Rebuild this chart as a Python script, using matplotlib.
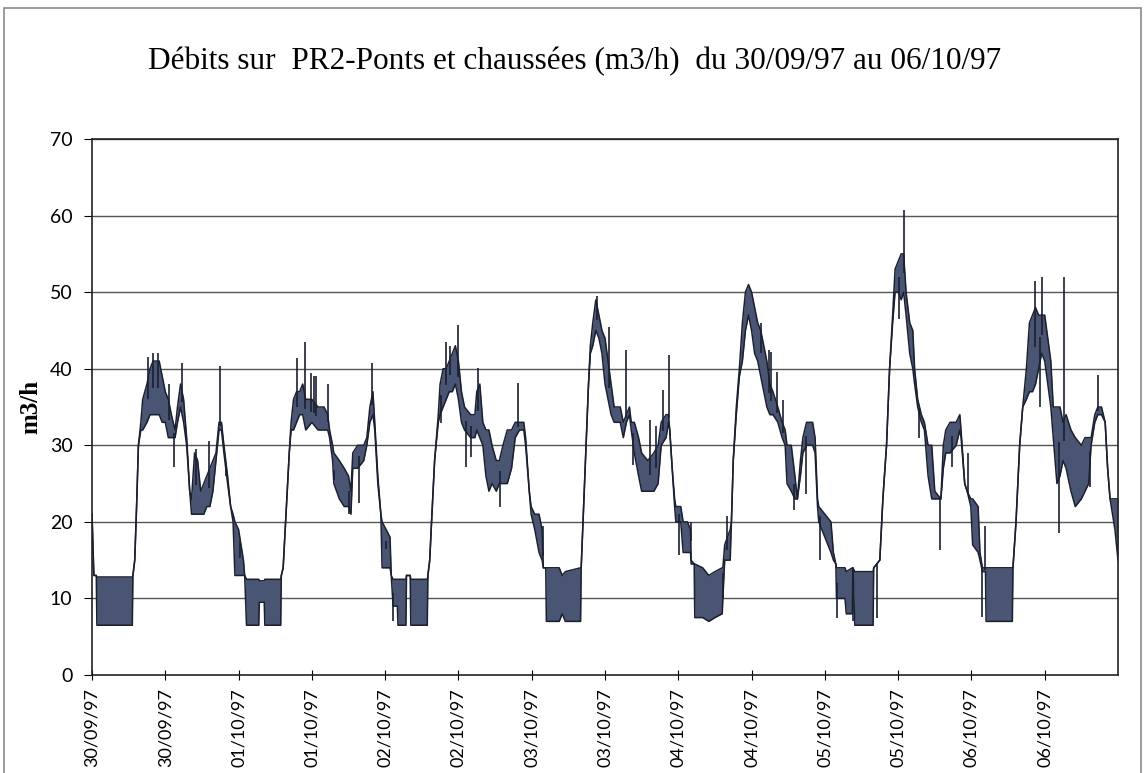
import numpy as np
import matplotlib
matplotlib.use("Agg")
import matplotlib.pyplot as plt
from matplotlib.patches import Rectangle

# flow envelope: (hour since 30/09 00:00, low, high) in m3/h
day_30_09 = [(0, 21, 21), (0.3, 13, 13), (0.7, 13, 13), (0.8, 6.5, 12.8), (6.6, 6.5, 12.8), (6.7, 13, 13),
             (7.0, 15, 15), (7.3, 22, 22), (7.6, 30, 30), (8.0, 32, 33), (8.3, 32, 36), (9.0, 33, 38),
             (9.5, 34, 40), (10.0, 34, 41), (11.0, 34, 41), (11.5, 33, 39), (12.0, 33, 37), (12.5, 31, 36),
             (13.0, 31, 34), (13.6, 31, 32), (14.0, 33, 35), (14.5, 35, 38), (15.0, 33, 36), (15.5, 30, 31),
             (16.0, 24, 24), (16.3, 21, 23), (16.8, 21, 29), (17.3, 21, 28), (17.8, 21, 24), (18.3, 21, 25),
             (18.8, 22, 26), (19.3, 22, 27), (19.8, 24, 28), (20.3, 28, 29), (20.8, 32, 33), (21.2, 32, 33),
             (21.6, 29, 30), (22.2, 25, 26), (22.7, 22, 22), (23.1, 20, 21), (23.4, 13, 20), (24.0, 13, 19)]
day_01_10 = [(24.8, 13, 15), (25.0, 13, 13), (25.3, 6.5, 12.5), (27.3, 6.5, 12.5), (27.4, 9.5, 12.3),
             (28.2, 9.5, 12.3), (28.3, 6.5, 12.5), (30.9, 6.5, 12.5), (31.0, 13, 13), (31.3, 14, 14),
             (31.7, 20, 20), (32.3, 29, 29), (32.6, 32, 33), (33.0, 32, 36), (33.5, 33, 37), (34.0, 34, 37),
             (34.5, 34, 38), (35.0, 32, 36), (36.0, 33, 36), (37.0, 32, 35), (38.0, 32, 35), (38.6, 32, 34),
             (38.9, 31, 32), (39.4, 28, 30), (39.6, 25, 29), (40.5, 23, 28), (41.3, 22, 27), (42.0, 22, 26),
             (42.4, 21, 24), (42.7, 27, 29), (43.5, 27, 30), (44.5, 28, 30), (45.0, 30, 31), (45.5, 33, 35),
             (46.0, 34, 37), (46.3, 32, 33), (46.8, 25, 26), (47.3, 21, 21), (47.5, 14, 20)]
day_02_10 = [(48.8, 14, 18), (49.0, 13, 13), (49.3, 9, 12.5), (50.0, 9, 12.5), (50.1, 6.5, 12.5),
             (51.4, 6.5, 12.5), (51.5, 13, 13), (52.1, 13, 13), (52.2, 6.5, 12.5), (54.9, 6.5, 12.5),
             (55.0, 13, 13), (55.3, 15, 15), (55.6, 20, 20), (56.1, 28, 28), (56.7, 33, 34), (57.0, 34, 38),
             (57.5, 35, 40), (58.0, 36, 40), (58.5, 37, 41), (59.0, 37, 42), (59.5, 38, 43), (60.0, 36, 41),
             (60.5, 33, 37), (61.0, 32, 35), (62.0, 31, 34), (62.7, 31, 34), (63.0, 32, 37), (63.5, 31, 38),
             (64.0, 30, 33), (64.5, 26, 32), (65.0, 24, 32), (65.5, 25, 30), (66.2, 24, 28), (66.7, 25, 28),
             (67.3, 25, 30), (68.0, 25, 32), (68.7, 27, 32), (69.3, 31, 33), (70.0, 32, 33), (70.7, 32, 33),
             (71.0, 30, 31), (71.6, 24, 24), (71.9, 21, 22)]
day_03_10 = [(72.5, 19, 21), (73.2, 16, 21), (73.7, 15, 19), (73.9, 14, 14), (74.3, 14, 14), (74.4, 7, 14),
             (76.5, 7, 14), (77.0, 8, 13), (77.5, 7, 13.5), (80.0, 7, 14), (80.1, 14, 14), (80.4, 20, 20),
             (80.9, 30, 30), (81.3, 38, 38), (81.6, 42, 43), (82.0, 43, 46), (82.5, 45, 49), (83.0, 44, 47),
             (83.5, 42, 45), (84.0, 38, 44), (84.5, 36, 41), (85.0, 34, 38), (85.5, 33, 35), (86.5, 33, 35),
             (87.0, 31, 33), (87.5, 33, 34), (88.0, 34, 35), (88.3, 32, 33), (88.8, 29, 33), (89.5, 26, 31),
             (90.0, 24, 29), (91.0, 24, 28), (92.0, 24, 29), (92.7, 25, 30), (93.2, 30, 33), (94.0, 31, 34),
             (94.4, 33, 34), (94.6, 32, 32), (95.0, 27, 27), (95.4, 22, 23), (95.6, 20, 22)]
day_04_10 = [(96.4, 20, 22), (96.8, 16, 20), (97.5, 16, 20), (98.0, 16, 19), (98.1, 14.5, 15),
             (98.6, 14.5, 14.5), (98.7, 7.5, 14.5), (100.0, 7.5, 14), (101.0, 7, 13), (102.0, 7.5, 13.5),
             (103.2, 8, 14), (103.3, 10, 14), (103.6, 15, 17), (104.5, 15, 19), (104.7, 20, 20),
             (105.0, 28, 28), (105.5, 34, 35), (106.0, 39, 40), (106.5, 41, 46), (107.0, 45, 50),
             (107.5, 47, 51), (108.0, 45, 50), (108.5, 42, 48), (109.0, 41, 46), (109.5, 39, 45),
             (110.0, 37, 43), (110.5, 35, 41), (111.0, 34, 38), (111.5, 34, 37), (112.3, 33, 35),
             (113.0, 31, 33), (113.5, 30, 32), (113.8, 25, 30), (114.5, 24, 30), (115.1, 23, 26),
             (115.5, 23, 23), (116.0, 26, 28), (116.4, 29, 31), (117.0, 30, 33), (118.0, 30, 33),
             (118.4, 29, 31), (118.8, 22, 23), (119.0, 20, 22)]
day_05_10 = [(120.0, 18, 21), (121.0, 16, 20), (121.4, 15, 16), (121.8, 14.5, 14.5), (121.9, 10, 14),
             (123.3, 10, 14), (123.5, 8, 13.5), (124.5, 8, 14), (124.6, 14, 14), (124.9, 6.5, 13.5),
             (127.9, 6.5, 13.5), (128.0, 14, 14), (129.0, 15, 15), (129.5, 23, 23), (130.1, 30, 30),
             (130.6, 40, 40), (131.1, 46, 47), (131.5, 50, 53), (132.0, 50, 54), (132.5, 49, 55),
             (132.9, 50, 55), (133.3, 47, 50), (133.9, 42, 46), (134.4, 40, 45), (134.7, 38, 40),
             (135.2, 35, 36), (135.8, 33, 34), (136.3, 32, 33), (136.9, 26, 30), (137.5, 23, 30),
             (138.0, 23, 24), (139.0, 23, 23), (139.4, 27, 30), (139.8, 29, 32), (140.5, 29, 33),
             (141.5, 30, 33), (142.1, 32, 34), (142.3, 31, 32), (142.9, 25, 25), (143.3, 24, 24),
             (143.9, 22, 23)]
day_06_10 = [(144.2, 17, 23), (145.1, 16, 22), (145.4, 15, 16), (145.8, 13.5, 14), (146.3, 13.5, 14),
             (146.4, 7, 14), (150.7, 7, 14), (150.8, 14, 14), (151.3, 20, 20), (151.9, 30, 30),
             (152.4, 35, 35), (153.0, 36, 40), (153.5, 37, 46), (154.0, 37, 47), (154.5, 38, 48),
             (155.0, 40, 47), (155.5, 42, 47), (156.0, 41, 47), (156.5, 38, 44), (157.0, 35, 41),
             (157.4, 31, 35), (158.0, 25, 35), (158.5, 26, 35), (159.0, 28, 33), (159.5, 27, 34),
             (160.3, 24, 32), (161.0, 22, 31), (162.0, 23, 30), (162.6, 24, 31), (163.2, 25, 31),
             (163.6, 30, 31), (164.2, 33, 34), (164.7, 34, 35), (165.3, 34, 35), (165.9, 33, 33),
             (166.3, 27, 27), (166.7, 23, 23), (167.5, 19, 23), (168.0, 15, 23)]

# isolated peaks / drops (hour, value)
spike_hours = [9.2, 10.0, 10.8, 12.6, 13.5, 14.7, 17.0, 19.2, 20.9, 21.9, 24.3,
               33.5, 34.8, 35.8, 36.3, 36.7, 38.6, 39.7, 42.0, 43.8, 45.9, 48.2, 49.3,
               57.2, 57.9, 58.7, 59.9, 61.3, 62.0, 63.2, 66.8, 69.8, 73.8,
               82.7, 84.7, 87.5, 88.6, 91.3, 92.4, 93.5, 94.4, 96.1, 98.0, 103.4, 103.9,
               109.5, 110.8, 111.2, 112.2, 113.2, 115.0, 116.9, 119.2, 122.0, 124.6, 128.5,
               132.2, 132.9, 135.4, 138.9,
               140.8, 143.4, 145.7, 146.3, 154.4, 155.3, 155.6, 158.4, 159.1, 163.4, 164.8]
spike_values = [41.5, 42, 42, 38, 27.2, 40.7, 29.5, 30.5, 40.3, 26, 17.5,
                41.4, 43.5, 39.5, 39, 39, 38, 25.5, 21, 22.5, 40.7, 17.5, 7,
                32.9, 43.5, 43, 45.7, 27.2, 28.5, 40.1, 22, 38.1, 19.5,
                49.5, 45.5, 42.4, 27.4, 33.3, 32.5, 37.2, 41.8, 15.7, 20, 10, 20.7,
                46, 42.4, 42.2, 39.6, 35.9, 21.5, 23.7, 15, 7.5, 7, 7.4,
                46.5, 60.7, 30.9, 16.3,
                27.2, 29, 7.6, 19.5, 51.4, 35, 52, 18.5, 52, 24.6, 39.2]

tick_hours = list(range(0, 168, 12))
tick_labels = ['30/09/97', '30/09/97', '01/10/97', '01/10/97', '02/10/97', '02/10/97', '03/10/97',
               '03/10/97', '04/10/97', '04/10/97', '05/10/97', '05/10/97', '06/10/97', '06/10/97']

env = np.array(day_30_09 + day_01_10 + day_02_10 + day_03_10 + day_04_10 + day_05_10 + day_06_10)
hours, low, high = env[:, 0], env[:, 1], env[:, 2]

fig = plt.figure(figsize=(11.45, 7.73), dpi=100)
ax = fig.add_axes([92 / 1145, 1 - 675 / 773, (1118 - 92) / 1145, (675 - 139) / 773])

band_col = '#4a5573'
edge_col = '#1b2030'
for y in range(10, 80, 10):
    ax.axhline(y, color='#555555', lw=1.0, zorder=1)
ax.fill_between(hours, low, high, color=band_col, lw=0, zorder=2)
ax.plot(hours, low, color=edge_col, lw=1.1, zorder=3)
ax.plot(hours, high, color=edge_col, lw=1.1, zorder=3)
base = np.interp(spike_hours, hours, (low + high) / 2)
ax.vlines(spike_hours, base, spike_values, color=edge_col, lw=1.2, zorder=3)

ax.set_xlim(0, 168)
ax.set_ylim(0, 70)
ax.set_yticks(range(0, 80, 10))
ax.set_xticks(tick_hours)
ax.set_xticklabels(tick_labels, rotation=90, fontsize=13, family='Lato')
for lab in ax.get_yticklabels():
    lab.set_family('Lato')
    lab.set_fontsize(14)
ax.tick_params(axis='x', direction='inout', length=7, width=0.8, pad=6)
ax.tick_params(axis='y', direction='out', length=6, width=0.8, pad=8)
for s in ax.spines.values():
    s.set_linewidth(1.2)
    s.set_color('#222222')

ax.set_ylabel('m3/h', family='Liberation Serif', fontweight='bold', fontsize=18)
ax.yaxis.set_label_coords(-0.048, 0.5)
fig.text(0.502, 1 - 62 / 773, 'Débits sur  PR2-Ponts et chaussées (m3/h)  du 30/09/97 au 06/10/97',
         ha='center', va='center', family='Liberation Serif', fontsize=22.5)

fig.patches.append(Rectangle((4 / 1145, -0.02), 1137 / 1145, 1.02 - 8 / 773, transform=fig.transFigure,
                             fill=False, ec='#8a8a8a', lw=1.2))

fig.savefig('out.png', dpi=100)
